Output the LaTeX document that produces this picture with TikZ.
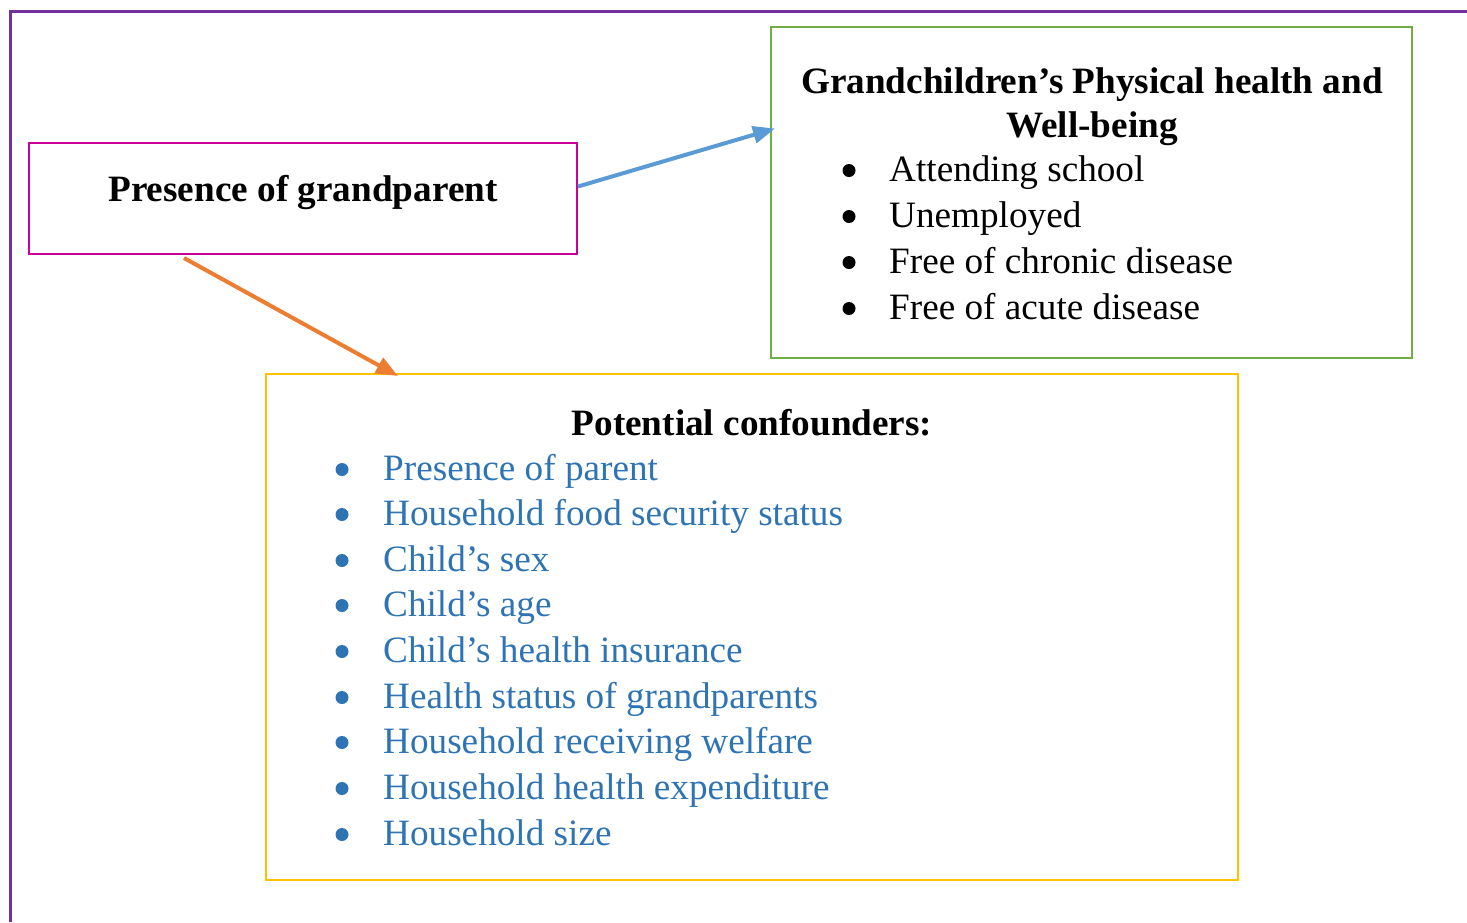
\documentclass[tikz,border=0pt]{standalone}
\usepackage{fontspec}
\setmainfont{Liberation Serif}
\usetikzlibrary{arrows.meta}

\definecolor{framepurple}{HTML}{7030A0}
\definecolor{boxmagenta}{HTML}{CC0099}
\definecolor{boxgreen}{HTML}{70AD47}
\definecolor{boxgold}{HTML}{FFC000}
\definecolor{arrowblue}{HTML}{5B9BD5}
\definecolor{arroworange}{HTML}{ED7D31}
\definecolor{listblue}{HTML}{2E74B5}

\tikzset{
  panel/.style={draw, line width=2pt, inner sep=0pt, fill=none},
  txt/.style={inner sep=0pt, anchor=base west, font=\fontsize{37.2}{46}\selectfont},
  headline/.style={inner sep=0pt, anchor=base, font=\fontsize{37.2}{46}\selectfont\bfseries},
  dot/.style={circle, inner sep=0pt, minimum size=13pt},
  link/.style={line width=4pt, -{Triangle[length=22pt,width=17pt]}},
}

\begin{document}
\begin{tikzpicture}[x=1pt, y=-1pt]
  \useasboundingbox (0,0) rectangle (1467,922);

  % outer frame (open to the right and bottom)
  \draw[framepurple, line width=3pt] (10,922) -- (10,11) -- (1467,11);

  % boxes
  \node[panel, draw=boxmagenta, minimum width=548pt, minimum height=111pt] (gp) at (303,198.5) {};
  \node[panel, draw=boxgreen, minimum width=641pt, minimum height=331pt] (outcome) at (1091.5,192.5) {};
  \node[panel, draw=boxgold, minimum width=972pt, minimum height=506pt] (conf) at (752,627) {};

  % exposure
  \node[headline] (gptext) at (303,201) {Presence of grandparent};

  % outcome box contents
  \node[headline] (ohead1) at (1092,93) {Grandchildren’s Physical health and};
  \node[headline] (ohead2) at (1092,137) {Well-being};
  \foreach \y/\t [count=\i] in {181/Attending school, 227/Unemployed,
      273/Free of chronic disease, 319/Free of acute disease} {
    \node[dot, fill=black] (ob\i) at (849,\y-10.5) {};
    \node[txt] (oi\i) at (889,\y) {\t};
  }

  % confounder box contents
  \node[headline] (chead) at (752,435) {Potential confounders:};
  \foreach \y/\t [count=\i] in {480/Presence of parent,
      525/Household food security status, 571/Child’s sex, 616/Child’s age,
      662/Child’s health insurance, 708/Health status of grandparents,
      753/Household receiving welfare, 799/Household health expenditure,
      845/Household size} {
    \node[dot, fill=listblue] (cb\i) at (342,\y-10.5) {};
    \node[txt, text=listblue] (ci\i) at (383,\y) {\t};
  }

  % connectors
  \draw[link, arrowblue] ([yshift=12pt]gp.east) -- ([xshift=5pt, yshift=64pt]outcome.west);
  \draw[link, arroworange] ([xshift=-119pt, yshift=-3pt]gp.south) -- ([xshift=-354pt, yshift=-3pt]conf.north);
\end{tikzpicture}
\end{document}
